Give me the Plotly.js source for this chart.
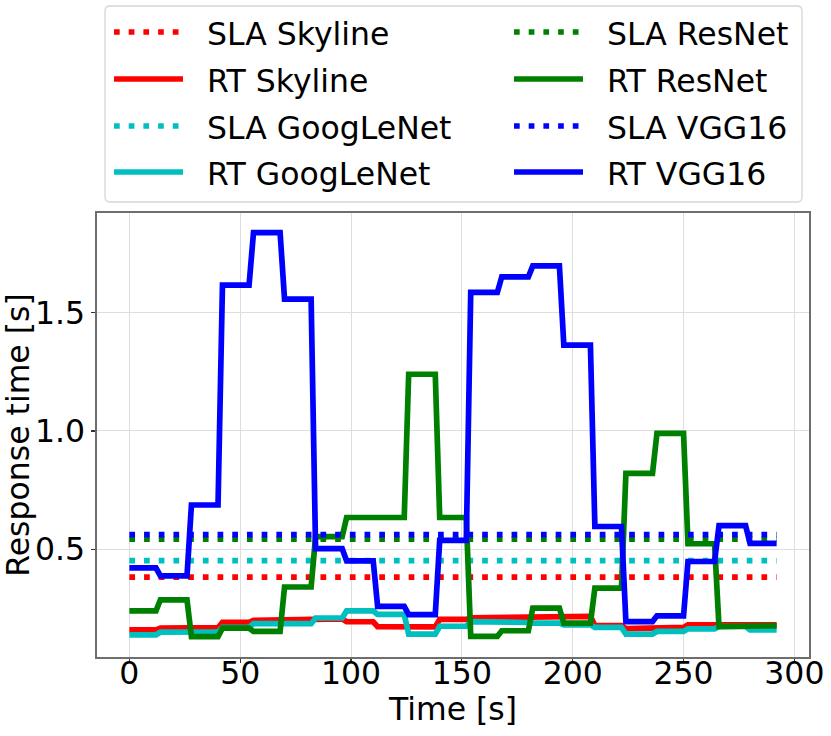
<!DOCTYPE html>
<html>
<head>
<meta charset="utf-8">
<script src="https://cdn.plot.ly/plotly-3.0.1.min.js"></script>
<style>
  body { margin: 0; background: #fff; }
  #chart { width: 831px; height: 736px; }
</style>
</head>
<body>
<div id="chart"></div>
<script>
// each value is held for one 14 s block, samples every 2 s -> slanted 2 s transitions
var blockStart = [0, 14, 28, 42, 56, 70, 84, 98, 112, 126, 140, 154, 168, 182, 196, 210, 224, 238, 252, 266, 280];
var blockEnd   = [12, 26, 40, 54, 68, 82, 96, 110, 124, 138, 152, 166, 180, 194, 208, 222, 236, 250, 264, 278, 292];

var rtSkyline   = [0.159, 0.166, 0.168, 0.191, 0.199, 0.205, 0.205, 0.193, 0.172, 0.171, 0.203, 0.210, 0.214, 0.216, 0.216, 0.177, 0.164, 0.169, 0.180, 0.180, 0.180];
var rtGoogLeNet = [0.138, 0.149, 0.150, 0.169, 0.185, 0.185, 0.209, 0.239, 0.224, 0.141, 0.174, 0.194, 0.190, 0.187, 0.180, 0.169, 0.141, 0.152, 0.163, 0.173, 0.159];
var rtResNet    = [0.239, 0.286, 0.130, 0.166, 0.152, 0.340, 0.553, 0.634, 0.634, 1.240, 0.634, 0.131, 0.155, 0.251, 0.187, 0.335, 0.821, 0.990, 0.523, 0.173, 0.176];
var rtVGG16     = [0.421, 0.387, 0.687, 1.617, 1.839, 1.558, 0.502, 0.451, 0.258, 0.223, 0.537, 1.586, 1.652, 1.698, 1.363, 0.596, 0.194, 0.218, 0.448, 0.600, 0.525];

var slaTime = [0, 292];
var slaSkyline = 0.382;
var slaGoogLeNet = 0.452;
var slaResNet = 0.542;
var slaVGG16 = 0.562;

var models = ["Skyline", "GoogLeNet", "ResNet", "VGG16"];
var colors = ["#ff0000", "#00bfbf", "#008000", "#0000ff"];
var slaValues = [slaSkyline, slaGoogLeNet, slaResNet, slaVGG16];
var rtValues = [rtSkyline, rtGoogLeNet, rtResNet, rtVGG16];

var FONT = "DejaVu Sans, sans-serif";
var W = 831, H = 736;
var M = { l: 97, r: 22, t: 213, b: 79 };
var PW = W - M.l - M.r, PH = H - M.t - M.b;
function px2x(px) { return (px - M.l) / PW; }
function py2y(py) { return (H - M.b - py) / PH; }

var LW = 5.7;
var DOT = "5.7px,9px";

var traces = [];
var legendItems = [];
for (let i = 0; i < models.length; ++i) {
  traces.push({
    x: slaTime, y: [slaValues[i], slaValues[i]], mode: "lines", name: "SLA " + models[i],
    line: { color: colors[i], width: LW, dash: DOT }, hoverinfo: "skip"
  });
  legendItems.push({ name: "SLA " + models[i], color: colors[i], dash: DOT });

  var xs = [], ys = [];
  for (let k = 0; k < blockStart.length; ++k) {
    xs.push(blockStart[k], blockEnd[k]);
    ys.push(rtValues[i][k], rtValues[i][k]);
  }
  traces.push({
    x: xs, y: ys, mode: "lines", name: "RT " + models[i],
    line: { color: colors[i], width: LW }, hoverinfo: "skip"
  });
  legendItems.push({ name: "RT " + models[i], color: colors[i], dash: "solid" });
}

// legend drawn by hand (matplotlib style: 2 columns, long samples)
var shapes = [];
var annotations = [];
var bx0 = px2x(105), bx1 = px2x(802), by0 = py2y(202), by1 = py2y(6);
var rx = 5 / PW, ry = 5 / PH;
shapes.push({
  type: "path", xref: "paper", yref: "paper",
  path: "M" + (bx0 + rx) + "," + by0 + " L" + (bx1 - rx) + "," + by0 +
        " Q" + bx1 + "," + by0 + " " + bx1 + "," + (by0 + ry) +
        " L" + bx1 + "," + (by1 - ry) +
        " Q" + bx1 + "," + by1 + " " + (bx1 - rx) + "," + by1 +
        " L" + (bx0 + rx) + "," + by1 +
        " Q" + bx0 + "," + by1 + " " + bx0 + "," + (by1 - ry) +
        " L" + bx0 + "," + (by0 + ry) +
        " Q" + bx0 + "," + by0 + " " + (bx0 + rx) + "," + by0 + " Z",
  line: { color: "#d6d6d6", width: 1.3 }, fillcolor: "rgba(255,255,255,0.9)"
});
var rowY = [32, 79, 126, 172];
var colX = [114, 514];
for (let j = 0; j < legendItems.length; ++j) {
  var col = Math.floor(j / 4), row = j % 4;
  var it = legendItems[j];
  shapes.push({
    type: "line", xref: "paper", yref: "paper",
    x0: px2x(colX[col]), x1: px2x(colX[col] + 69),
    y0: py2y(rowY[row]), y1: py2y(rowY[row]),
    line: { color: it.color, width: LW, dash: it.dash }
  });
  annotations.push({
    xref: "paper", yref: "paper", x: px2x(colX[col] + 91), y: py2y(rowY[row] + 2),
    xanchor: "left", yanchor: "middle", showarrow: false, text: it.name,
    font: { family: FONT, size: 31.5, color: "#000" }
  });
}

var axisCommon = {
  showline: true, mirror: true, linecolor: "#6e6e6e", linewidth: 1.6,
  showgrid: true, gridcolor: "#dedede", gridwidth: 1, zeroline: false,
  ticks: "outside", ticklen: 4, tickwidth: 1.2, tickcolor: "#333",
  tickfont: { family: FONT, size: 31.5, color: "#000" }
};

var layout = {
  width: W, height: H, margin: M,
  paper_bgcolor: "#fff", plot_bgcolor: "#fff",
  showlegend: false,
  font: { family: FONT, color: "#000" },
  xaxis: Object.assign({}, axisCommon, {
    range: [-14.6, 306.6], tickvals: [0, 50, 100, 150, 200, 250, 300],
    ticklabelstandoff: -16,
    title: { text: "Time [s]", font: { family: FONT, size: 31.5 }, standoff: 2 }
  }),
  yaxis: Object.assign({}, axisCommon, {
    range: [0.044, 1.922], tickvals: [0.5, 1.0, 1.5], ticktext: ["0.5", "1.0", "1.5"],
    title: { text: "Response time [s]", font: { family: FONT, size: 31.5 }, standoff: 6 }
  }),
  shapes: shapes,
  annotations: annotations
};

Plotly.newPlot(document.getElementById("chart"), traces, layout, { displayModeBar: false, staticPlot: true });
</script>
</body>
</html>
